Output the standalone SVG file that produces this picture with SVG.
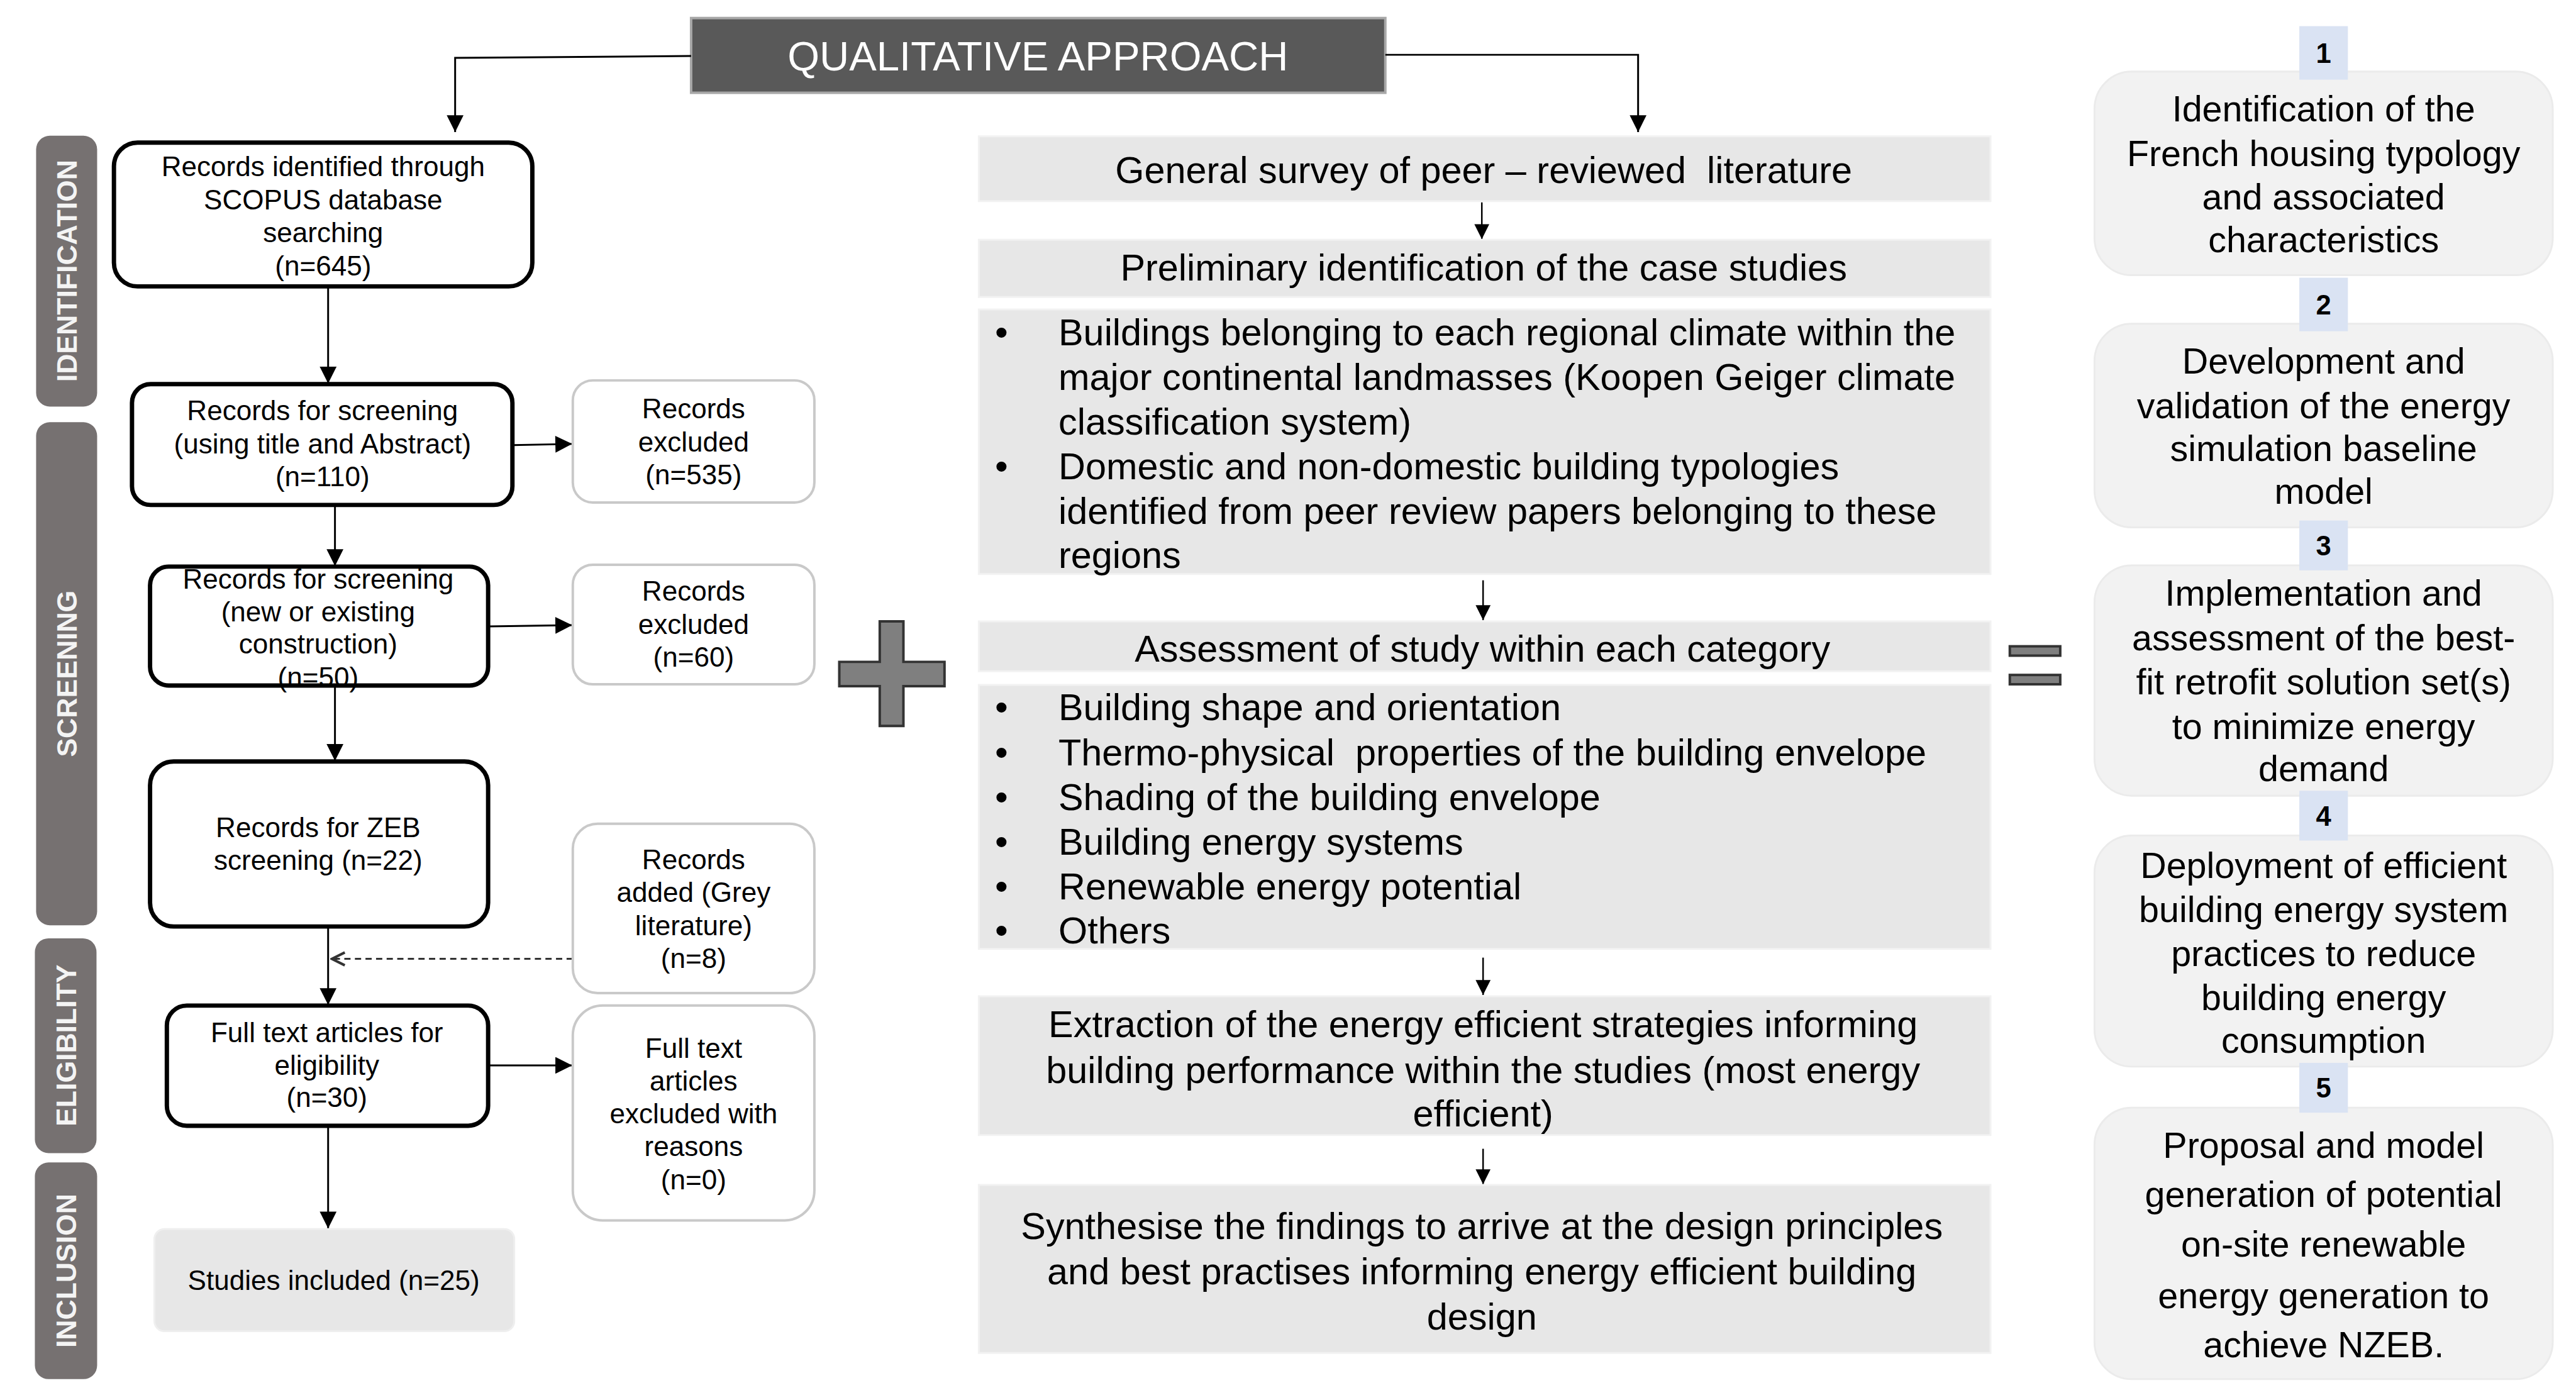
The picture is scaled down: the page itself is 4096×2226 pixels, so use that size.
<svg xmlns="http://www.w3.org/2000/svg" width="4096" height="2226" viewBox="0 0 4096 2226">
<defs>
<marker id="ah" viewBox="0 0 10 10" refX="10" refY="5" markerUnits="userSpaceOnUse" markerWidth="28" markerHeight="27" orient="auto"><path d="M0,0 L10,5 L0,10 z" fill="#000"/></marker>
<marker id="ahs" viewBox="0 0 10 10" refX="10" refY="5" markerUnits="userSpaceOnUse" markerWidth="26" markerHeight="24" orient="auto"><path d="M0,0 L10,5 L0,10 z" fill="#000"/></marker>
<marker id="ahd" viewBox="0 0 10 10" refX="9" refY="5" markerUnits="userSpaceOnUse" markerWidth="26" markerHeight="26" orient="auto"><path d="M1,1 L9,5 L1,9" fill="none" stroke="#333" stroke-width="1.6"/></marker>
<style>
text{font-family:"Liberation Sans",Arial,sans-serif;}
.t43{font-size:44.5px;fill:#000;text-anchor:middle;}
.t60{font-size:60px;fill:#000;text-anchor:middle;}
.t58{font-size:58px;fill:#000;text-anchor:middle;}
.b60{font-size:60px;fill:#000;}
.bar{fill:#767171;}
.bart{font-size:45px;font-weight:bold;fill:#f4f4f4;text-anchor:middle;}
.pbox{fill:#fff;stroke:#000;stroke-width:7;}
.xbox{fill:#fff;stroke:#c9c9c9;stroke-width:4;}
.cbox{fill:#e7e7e7;stroke:#f2f2f2;stroke-width:3;}
.rbox{fill:#f2f2f2;stroke:#ebebeb;stroke-width:3;}
.badge{fill:#dae3f3;}
.bn{font-size:44px;font-weight:bold;fill:#000;text-anchor:middle;}
.ln{fill:none;stroke:#000;stroke-width:3;}
.lns{fill:none;stroke:#000;stroke-width:2.5;}
.sym{fill:#7f7f7f;stroke:#333;stroke-width:4;}
</style>
</defs>
<g transform="scale(0.990)">
<rect width="4137" height="2248" fill="#fff"/>

<!-- phase bars -->
<g id="bar-identification"><rect class="bar" x="58" y="218" width="98" height="435" rx="22"/><text class="bart" transform="translate(107,435) rotate(-90)" y="16">IDENTIFICATION</text></g>
<g id="bar-screening"><rect class="bar" x="58" y="678" width="98" height="808" rx="22"/><text class="bart" transform="translate(107,1082) rotate(-90)" y="16">SCREENING</text></g>
<g id="bar-eligibility"><rect class="bar" x="56" y="1507" width="99" height="345" rx="22"/><text class="bart" transform="translate(106,1679) rotate(-90)" y="16">ELIGIBILITY</text></g>
<g id="bar-inclusion"><rect class="bar" x="56" y="1867" width="100" height="348" rx="22"/><text class="bart" transform="translate(106,2041) rotate(-90)" y="16">INCLUSION</text></g>

<!-- title -->
<g id="title"><rect x="1110" y="29" width="1115" height="120" fill="#595959" stroke="#a8a8a8" stroke-width="4"/><text x="1667" y="113" font-size="66" fill="#fff" text-anchor="middle">QUALITATIVE APPROACH</text></g>

<!-- connectors -->
<g id="connectors">
<polyline class="ln" stroke="#555" stroke-width="4" points="1110,90 731,93 731,212" marker-end="url(#ah)"/>
<polyline class="ln" stroke="#555" stroke-width="4" points="2225,88 2631,88 2631,212" marker-end="url(#ah)"/>
<line class="ln" x1="527" y1="460" x2="527" y2="616" marker-end="url(#ah)"/>
<line class="ln" x1="823" y1="715" x2="919" y2="713" marker-end="url(#ah)"/>
<line class="ln" x1="538" y1="811" x2="538" y2="909" marker-end="url(#ah)"/>
<line class="ln" x1="784" y1="1006" x2="919" y2="1004" marker-end="url(#ah)"/>
<line class="ln" x1="538" y1="1101" x2="538" y2="1222" marker-end="url(#ah)"/>
<line class="ln" x1="527" y1="1488" x2="527" y2="1614" marker-end="url(#ah)"/>
<line x1="920" y1="1540" x2="533" y2="1540" stroke="#333" stroke-width="3" stroke-dasharray="10,7" marker-end="url(#ahd)"/>
<line class="ln" x1="784" y1="1711" x2="919" y2="1711" marker-end="url(#ah)"/>
<line class="ln" x1="527" y1="1808" x2="527" y2="1973" marker-end="url(#ah)"/>
<line class="lns" x1="2380" y1="325" x2="2380" y2="384" marker-end="url(#ahs)"/>
<line class="lns" x1="2382" y1="932" x2="2382" y2="996" marker-end="url(#ahs)"/>
<line class="lns" x1="2382" y1="1538" x2="2382" y2="1598" marker-end="url(#ahs)"/>
<line class="lns" x1="2382" y1="1845" x2="2382" y2="1902" marker-end="url(#ahs)"/>
</g>

<!-- left column -->
<g id="records-identified"><rect class="pbox" x="183" y="229" width="672" height="231" rx="38"/>
<text class="t43"><tspan x="519" y="283">Records identified through</tspan><tspan x="519" y="336">SCOPUS database</tspan><tspan x="519" y="389">searching</tspan><tspan x="519" y="442">(n=645)</tspan></text></g>
<g id="records-screening-1"><rect class="pbox" x="212" y="617" width="611" height="194" rx="30"/>
<text class="t43"><tspan x="518" y="675">Records for screening</tspan><tspan x="518" y="728">(using title and Abstract)</tspan><tspan x="518" y="781">(n=110)</tspan></text></g>
<g id="excluded-535"><rect class="xbox" x="920" y="611" width="388" height="196" rx="32"/>
<text class="t43"><tspan x="1114" y="672">Records</tspan><tspan x="1114" y="725">excluded</tspan><tspan x="1114" y="778">(n=535)</tspan></text></g>
<g id="records-screening-2"><rect class="pbox" x="241" y="910" width="543" height="191" rx="30"/>
<text class="t43"><tspan x="511" y="945">Records for screening</tspan><tspan x="511" y="998">(new or existing</tspan><tspan x="511" y="1050">construction)</tspan><tspan x="511" y="1103">(n=50)</tspan></text></g>
<g id="excluded-60"><rect class="xbox" x="920" y="907" width="388" height="192" rx="32"/>
<text class="t43"><tspan x="1114" y="965">Records</tspan><tspan x="1114" y="1018">excluded</tspan><tspan x="1114" y="1071">(n=60)</tspan></text></g>
<g id="records-zeb"><rect class="pbox" x="241" y="1223" width="543" height="265" rx="38"/>
<text class="t43"><tspan x="511" y="1344">Records for ZEB</tspan><tspan x="511" y="1397">screening (n=22)</tspan></text></g>
<g id="records-added"><rect class="xbox" x="920" y="1323" width="388" height="272" rx="40"/>
<text class="t43"><tspan x="1114" y="1396">Records</tspan><tspan x="1114" y="1449">added (Grey</tspan><tspan x="1114" y="1502">literature)</tspan><tspan x="1114" y="1555">(n=8)</tspan></text></g>
<g id="full-text"><rect class="pbox" x="268" y="1615" width="516" height="193" rx="32"/>
<text class="t43"><tspan x="525" y="1674">Full text articles for</tspan><tspan x="525" y="1726">eligibility</tspan><tspan x="525" y="1778">(n=30)</tspan></text></g>
<g id="full-text-excluded"><rect class="xbox" x="920" y="1615" width="388" height="345" rx="48"/>
<text class="t43"><tspan x="1114" y="1699">Full text</tspan><tspan x="1114" y="1752">articles</tspan><tspan x="1114" y="1804">excluded with</tspan><tspan x="1114" y="1857">reasons</tspan><tspan x="1114" y="1910">(n=0)</tspan></text></g>
<g id="studies-included"><rect x="248" y="1974" width="578" height="164" rx="16" fill="#e7e7e7" stroke="#efefef" stroke-width="3"/>
<text class="t43" x="536" y="2072">Studies included (n=25)</text></g>

<!-- plus / equals -->
<g id="plus"><path class="sym" d="M1413,998 H1451 V1063 H1517 V1102 H1451 V1166 H1413 V1102 H1348 V1063 H1413 Z"/></g>
<g id="equals"><rect class="sym" x="3228" y="1038" width="81" height="15"/><rect class="sym" x="3228" y="1084" width="81" height="15"/></g>

<!-- center column -->
<g id="general-survey"><rect class="cbox" x="1572" y="219" width="1625" height="104"/>
<text class="t60" x="2383" y="294" xml:space="preserve">General survey of peer – reviewed  literature</text></g>
<g id="preliminary"><rect class="cbox" x="1572" y="385" width="1625" height="92"/>
<text class="t60" x="2383" y="451">Preliminary identification of the case studies</text></g>
<g id="buildings-list"><rect class="cbox" x="1572" y="497" width="1625" height="425"/>
<text class="b60"><tspan x="1598" y="555">•</tspan><tspan x="1700" y="555">Buildings belonging to each regional climate within the</tspan><tspan x="1700" y="626">major continental landmasses (Koopen Geiger climate</tspan><tspan x="1700" y="698">classification system)</tspan><tspan x="1598" y="770">•</tspan><tspan x="1700" y="770">Domestic and non-domestic building typologies</tspan><tspan x="1700" y="841">identified from peer review papers belonging to these</tspan><tspan x="1700" y="912">regions</tspan></text></g>
<g id="assessment"><rect class="cbox" x="1572" y="998" width="1625" height="80"/>
<text class="t60" x="2381" y="1063">Assessment of study within each category</text></g>
<g id="categories-list"><rect class="cbox" x="1572" y="1100" width="1625" height="424"/>
<text class="b60" xml:space="preserve"><tspan x="1598" y="1157">•</tspan><tspan x="1700" y="1157">Building shape and orientation</tspan><tspan x="1598" y="1229">•</tspan><tspan x="1700" y="1229">Thermo-physical  properties of the building envelope</tspan><tspan x="1598" y="1301">•</tspan><tspan x="1700" y="1301">Shading of the building envelope</tspan><tspan x="1598" y="1373">•</tspan><tspan x="1700" y="1373">Building energy systems</tspan><tspan x="1598" y="1444">•</tspan><tspan x="1700" y="1444">Renewable energy potential</tspan><tspan x="1598" y="1515">•</tspan><tspan x="1700" y="1515">Others</tspan></text></g>
<g id="extraction"><rect class="cbox" x="1572" y="1600" width="1625" height="223"/>
<text class="t60"><tspan x="2382" y="1666">Extraction of the energy efficient strategies informing</tspan><tspan x="2382" y="1739">building performance within the studies (most energy</tspan><tspan x="2382" y="1809">efficient)</tspan></text></g>
<g id="synthesise"><rect class="cbox" x="1572" y="1903" width="1625" height="270"/>
<text class="t60"><tspan x="2380" y="1990">Synthesise the findings to arrive at the design principles</tspan><tspan x="2380" y="2063">and best practises informing energy efficient building</tspan><tspan x="2380" y="2135">design</tspan></text></g>

<!-- right column -->
<g id="step-1"><rect class="rbox" x="3364" y="115" width="736" height="327" rx="60"/>
<text class="t58"><tspan x="3732" y="195">Identification of the</tspan><tspan x="3732" y="267">French housing typology</tspan><tspan x="3732" y="336">and associated</tspan><tspan x="3732" y="405">characteristics</tspan></text>
<rect class="badge" x="3693" y="42" width="78" height="86"/><text class="bn" x="3732" y="101">1</text></g>
<g id="step-2"><rect class="rbox" x="3364" y="520" width="736" height="327" rx="60"/>
<text class="t58"><tspan x="3732" y="600">Development and</tspan><tspan x="3732" y="672">validation of the energy</tspan><tspan x="3732" y="740">simulation baseline</tspan><tspan x="3732" y="809">model</tspan></text>
<rect class="badge" x="3693" y="446" width="78" height="86"/><text class="bn" x="3732" y="505">2</text></g>
<g id="step-3"><rect class="rbox" x="3364" y="908" width="736" height="370" rx="60"/>
<text class="t58"><tspan x="3732" y="973">Implementation and</tspan><tspan x="3732" y="1044">assessment of the best-</tspan><tspan x="3732" y="1115">fit retrofit solution set(s)</tspan><tspan x="3732" y="1187">to minimize energy</tspan><tspan x="3732" y="1255">demand</tspan></text>
<rect class="badge" x="3693" y="836" width="78" height="80"/><text class="bn" x="3732" y="892">3</text></g>
<g id="step-4"><rect class="rbox" x="3364" y="1342" width="736" height="371" rx="60"/>
<text class="t58"><tspan x="3732" y="1410">Deployment of efficient</tspan><tspan x="3732" y="1481">building energy system</tspan><tspan x="3732" y="1552">practices to reduce</tspan><tspan x="3732" y="1622">building energy</tspan><tspan x="3732" y="1691">consumption</tspan></text>
<rect class="badge" x="3693" y="1270" width="78" height="80"/><text class="bn" x="3732" y="1326">4</text></g>
<g id="step-5"><rect class="rbox" x="3364" y="1779" width="736" height="436" rx="60"/>
<text class="t58"><tspan x="3732" y="1860">Proposal and model</tspan><tspan x="3732" y="1938">generation of potential</tspan><tspan x="3732" y="2018">on-site renewable</tspan><tspan x="3732" y="2101">energy generation to</tspan><tspan x="3732" y="2180">achieve NZEB.</tspan></text>
<rect class="badge" x="3693" y="1707" width="78" height="80"/><text class="bn" x="3732" y="1763">5</text></g>
</g>
</svg>
